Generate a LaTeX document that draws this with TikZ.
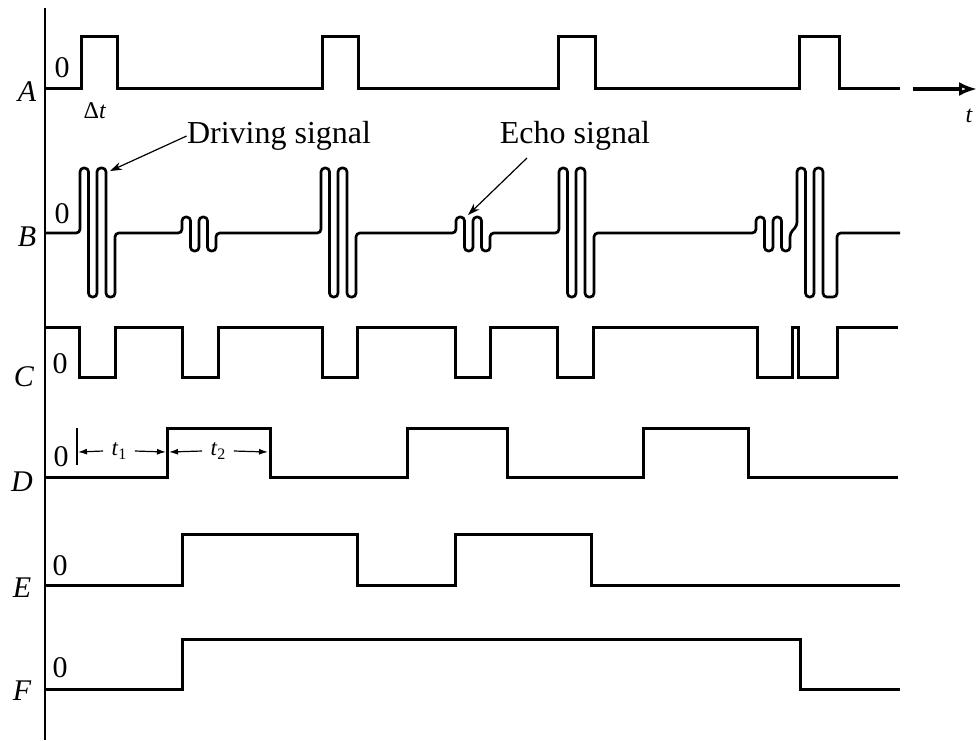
\documentclass[tikz,border=0pt]{standalone}
\usepackage{fontspec}
\setmainfont{Liberation Serif}
\usetikzlibrary{arrows.meta}
\newcommand\drvburst{-- ++(0,-65) -- ++(8.5,0) -- ++(0,129) -- ++(8.5,0) -- ++(0,-129) -- ++(9,0) -- ++(0,129) -- ++(9,0) -- ++(0,-64)}
\newcommand\echoburst{-- ++(0,-16) -- ++(8.5,0) -- ++(0,34) -- ++(8.5,0) -- ++(0,-34) -- ++(8.5,0) -- ++(0,34) -- ++(8.5,0) -- ++(0,-18)}
\begin{document}
\begin{tikzpicture}[x=0.5pt,y=-0.5pt,
  wave/.style={line width=1.5pt,line join=miter},
  burst/.style={line width=1.35pt,rounded corners=1.9pt},
  axisline/.style={line width=1pt},
  rowlabel/.style={inner sep=0pt,font=\fontsize{15}{15}\selectfont\itshape},
  zerolabel/.style={inner sep=0pt,font=\fontsize{15}{15}\selectfont},
  anno/.style={inner sep=0pt,font=\fontsize{16}{16}\selectfont},
  small/.style={inner sep=0pt,font=\fontsize{11.5}{11.5}\selectfont},
  pointer/.style={line width=0.6pt,-{Stealth[length=6pt,width=4pt]}},
  dimarrow/.style={line width=0.6pt,-{Latex[length=4.5pt,width=3pt]}}]
\useasboundingbox (0,0) rectangle (978,740);

% vertical axis
\draw[axisline] (45,8) -- (45,740);

% row labels
\node[rowlabel] (lA) at (27,92) {A};
\node[rowlabel] (lB) at (27,237) {B};
\node[rowlabel] (lC) at (24,377) {C};
\node[rowlabel] (lD) at (22,482) {D};
\node[rowlabel] (lE) at (22,588) {E};
\node[rowlabel] (lF) at (22,691) {F};

% zeros
\node[zerolabel] (zA) at (62,68) {0};
\node[zerolabel] (zB) at (62,214) {0};
\node[zerolabel] (zC) at (60,364) {0};
\node[zerolabel] (zD) at (61,457) {0};
\node[zerolabel] (zE) at (60,566) {0};
\node[zerolabel] (zF) at (60,668) {0};

% A
\draw[wave] (45,88) -| (81,36) -| (117,88) -| (322,36) -| (358,88) -| (558,36) -| (595,88) -| (799,36) -| (839,88) -- (900,88);
\node[small,font=\fontsize{12}{12}\selectfont] (dt) at (95,111) {Δ\textit{t}};
\coordinate (tstart) at (913,89);
\coordinate (tend) at (977,89);
\draw[line width=1.6pt,-{Latex[open,length=9pt,width=7pt]}] (tstart) -- (tend);
\node[inner sep=0pt,font=\fontsize{12}{12}\selectfont\itshape] (tlab) at (969,116) {t};

% B
\draw[burst] (45,233) -- (80,233) \drvburst -- (182,233) \echoburst -- (321,233) \drvburst -- (456,233) \echoburst -- (559,233) \drvburst -- (756,233) \echoburst
  -- (797,226) -- (797,168) -- (805.5,168) -- (805.5,297) -- (814,297) -- (814,168) -- (823,168) -- (823,297) -- (837,297) -- (837,233) -- (900,233);

\node[anno] (drvtext) at (279,136) {Driving signal};
\coordinate (drvtip) at (110,171);
\draw[pointer] (drvtext.west) -- (drvtip);
\node[anno] (echotext) at (575,136) {Echo signal};
\coordinate (echostart) at (527,158);
\coordinate (echotip) at (468,215);
\draw[pointer] (echostart) -- (echotip);

% C
\draw[wave] (45,327) -| (79,377) -| (115,327) -| (182,377) -| (218,327) -| (322,377) -| (357,327) -| (455,377) -| (490,327) -| (557,377) -| (593,327) -| (757,377) -| (792,327) -| (798,377) -| (837,327) -- (898,327);

% D
\draw[wave] (45,477) -| (167,428) -| (270,477) -| (407,428) -| (507,477) -| (643,428) -| (748,477) -- (898,477);
\coordinate (tickTop) at (77,428);
\coordinate (tickBot) at (77,465);
\draw[line width=0.7pt] (tickTop) -- (tickBot);
\node[small] (t1) at (119,451) {\textit{t}\raisebox{-2pt}{\fontsize{8}{8}\selectfont 1}};
\node[small] (t2) at (218,451) {\textit{t}\raisebox{-2pt}{\fontsize{8}{8}\selectfont 2}};
\coordinate (a1) at (78,452);
\coordinate (a2) at (166,452);
\coordinate (a3) at (169,452);
\coordinate (a4) at (268,452);
\draw[dimarrow] ([xshift=-4pt]t1.west) -- (a1);
\draw[dimarrow] ([xshift=4pt]t1.east) -- (a2);
\draw[dimarrow] ([xshift=-4pt]t2.west) -- (a3);
\draw[dimarrow] ([xshift=4pt]t2.east) -- (a4);

% E
\draw[wave] (45,585) -| (182,534) -| (357,585) -| (455,534) -| (591,585) -- (900,585);

% F
\draw[wave] (45,689) -| (182,639) -| (800,689) -- (900,689);
\end{tikzpicture}
\end{document}
